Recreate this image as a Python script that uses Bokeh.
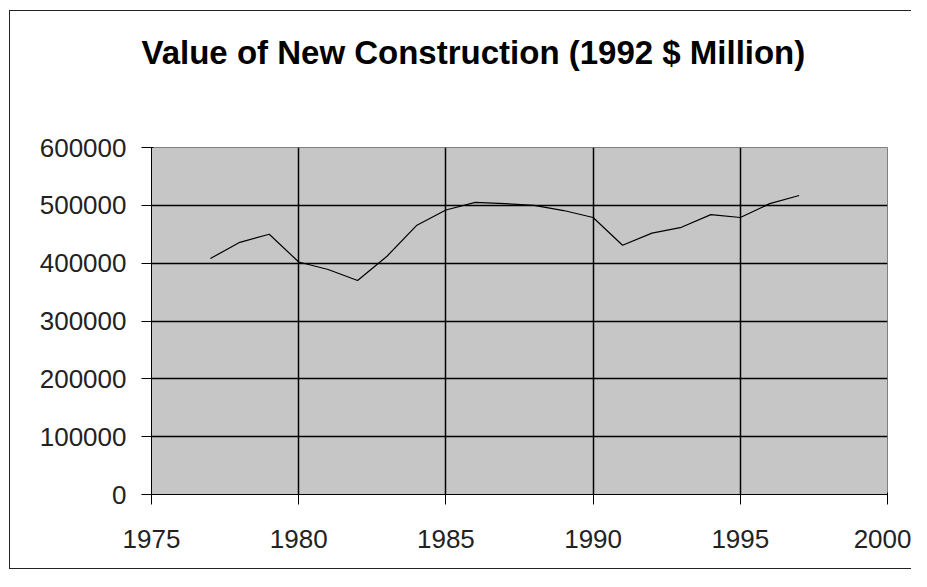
from bokeh.plotting import figure
from bokeh.models import FixedTicker, BasicTickFormatter, Range1d, Title
from bokeh.embed import file_html
from bokeh.resources import INLINE

years = [1977, 1978, 1979, 1980, 1981, 1982, 1983, 1984, 1985, 1986, 1987,
         1988, 1989, 1990, 1991, 1992, 1993, 1994, 1995, 1996, 1997]
values = [408000, 436000, 450000, 402000, 389000, 370000, 412000, 465000,
          492000, 505000, 503000, 500000, 491000, 479000, 431000, 452000,
          462000, 484000, 479000, 503000, 517000]
x_ticks = [1975, 1980, 1985, 1990, 1995, 2000]
y_ticks = [0, 100000, 200000, 300000, 400000, 500000, 600000]
title_text = "Value of New Construction (1992 $ Million)"

p = figure(width=911, height=571, output_backend="svg", toolbar_location=None,
           x_range=Range1d(1975, 2000), y_range=Range1d(0, 600000),
           min_border_left=151, min_border_right=24, min_border_top=147,
           min_border_bottom=77)
g = "linear-gradient(#222,#222)"
p.styles = {
    "background-image": f"{g}, {g}, {g}",
    "background-position": "9px 10px, 9px 10px, 9px calc(100% - 2px)",
    "background-size": "1px calc(100% - 12px), 100% 1px, 100% 1px",
    "background-repeat": "no-repeat",
}

p.background_fill_color = "#c6c6c6"
p.border_fill_color = None
p.outline_line_color = "#808080"
p.outline_line_width = 1

p.line(years, values, line_color="black", line_width=1.2)

for ax in (p.xaxis[0], p.yaxis[0]):
    ax.axis_line_color = "black"
    ax.major_tick_line_color = "black"
    ax.major_tick_out = 10
    ax.major_tick_in = 2
    ax.minor_tick_line_color = None
    ax.major_label_text_font = "Liberation Sans"
    ax.major_label_text_font_size = "26px"
    ax.major_label_text_color = "#222222"

p.xaxis[0].ticker = FixedTicker(ticks=x_ticks)
p.yaxis[0].ticker = FixedTicker(ticks=y_ticks)
p.yaxis[0].formatter = BasicTickFormatter(use_scientific=False)
p.xaxis[0].major_label_standoff = 25
p.yaxis[0].major_label_standoff = 15

p.xgrid[0].ticker = FixedTicker(ticks=x_ticks)
p.ygrid[0].ticker = FixedTicker(ticks=y_ticks)
p.xgrid.grid_line_color = "black"
p.ygrid.grid_line_color = "black"
p.xgrid.grid_line_width = 1.5
p.ygrid.grid_line_width = 1.5

# spacer between the title and the plot area
spacer = Title(text=" ", standoff=62, text_font_size="10px", text_color="white")
p.add_layout(spacer, "above")

title = Title(text=title_text, align="left", offset=-10, standoff=0,
              vertical_align="top",
              text_font="Liberation Sans", text_font_style="bold",
              text_font_size="33px", text_color="black")
p.add_layout(title, "above")

open("out.html", "w").write(file_html(p, INLINE))
